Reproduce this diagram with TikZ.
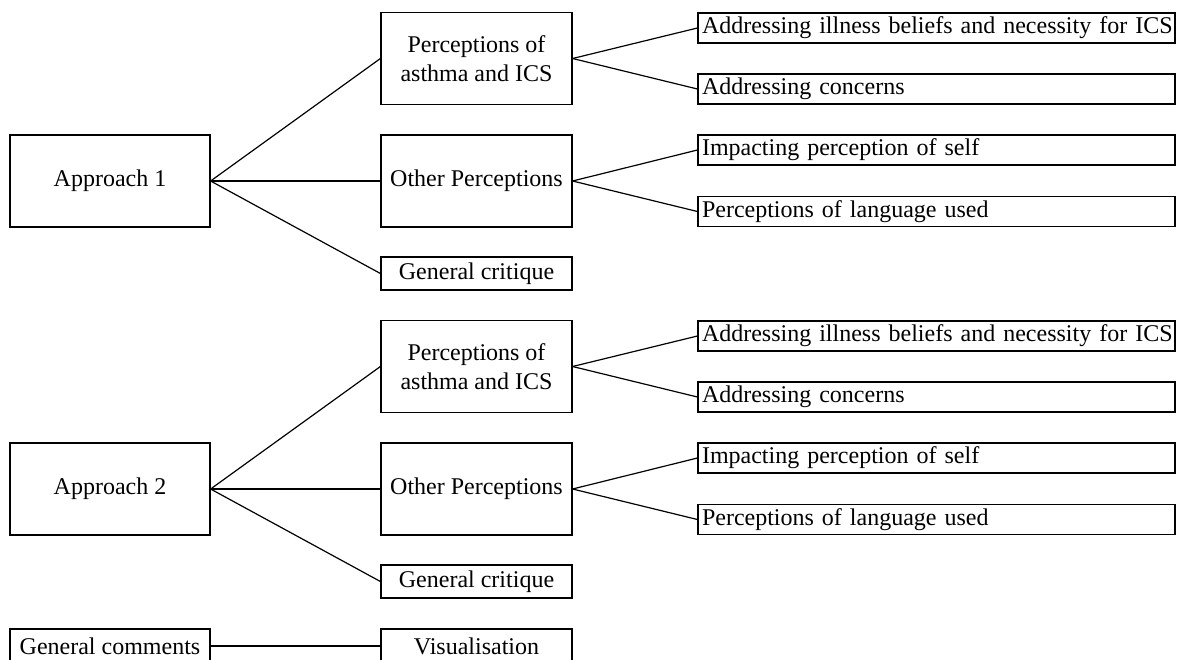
\documentclass[tikz,border=0pt]{standalone}
\usepackage{fontspec}
\setmainfont{Liberation Serif}
\begin{document}
\begin{tikzpicture}[x=1pt,y=-1pt,
  box/.style={draw, line width=1.2pt, inner sep=2pt, font=\fontsize{24}{29.5}\selectfont, align=center},
  mid/.style={box, minimum width=191pt, minimum height=92pt},
  appr/.style={box, minimum width=200pt, minimum height=92pt},
  crit/.style={box, minimum width=191pt, minimum height=33pt},
  leaf/.style={box, minimum width=477pt, minimum height=30pt, inner xsep=4pt, text width=469pt, align=left},
  link/.style={line width=1.2pt}]
\useasboundingbox (0,0) rectangle (1177,659);
\foreach \k/\off in {1/0,2/308}{
  \node[appr] (a\k) at (110,181+\off) {Approach \k};
  \node[mid] (p\k) at (476.5,58.5+\off) {Perceptions of\\asthma and ICS};
  \node[mid] (o\k) at (476.5,181+\off) {Other Perceptions};
  \node[crit] (g\k) at (476.5,273.5+\off) {General critique};
  \node[leaf] (la\k) at (936.5,28+\off) {\mbox{Addressing illness beliefs and necessity for ICS}};
  \node[leaf] (lb\k) at (936.5,89+\off) {Addressing concerns};
  \node[leaf] (lc\k) at (936.5,150+\off) {Impacting perception of self};
  \node[leaf] (ld\k) at (936.5,211.5+\off) {Perceptions of language used};
  \draw[link] (a\k.east) -- (p\k.west);
  \draw[link] (a\k.east) -- (o\k.west);
  \draw[link] (a\k.east) -- (g\k.west);
  \draw[link] (p\k.east) -- (la\k.west);
  \draw[link] (p\k.east) -- (lb\k.west);
  \draw[link] (o\k.east) -- (lc\k.west);
  \draw[link] (o\k.east) -- (ld\k.west);
}
\node[box, minimum width=200pt, minimum height=34pt] (gc) at (110,646) {General comments};
\node[box, minimum width=191pt, minimum height=34pt] (vis) at (476.5,646) {Visualisation};
\draw[link] (gc.east) -- (vis.west);
\end{tikzpicture}
\end{document}
